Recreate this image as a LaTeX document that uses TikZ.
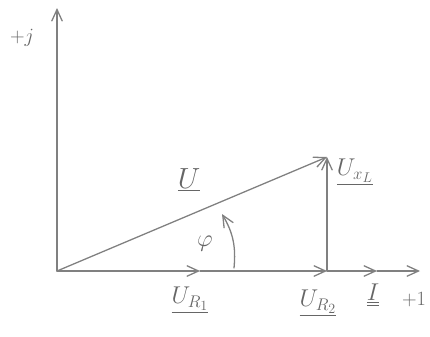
\documentclass[tikz,border=0pt]{standalone}
\usepackage{tikz}
\usetikzlibrary{arrows.meta}

\tikzset{
    pencil/.style={draw=black!50, line width=1.1pt, line cap=round},
    vec/.style={pencil, -{Straight Barb[length=3.5mm,width=3.2mm]}},
    lbl/.style={text=black!60, font=\huge}
}

\begin{document}
\begin{tikzpicture}[x=0.03cm, y=-0.03cm]
    \useasboundingbox (0,0) rectangle (430,336);

    \coordinate (o) at (57,271);
    \coordinate (yend) at (57,8);
    \coordinate (ur1) at (200,271);
    \coordinate (ur2) at (327,271);
    \coordinate (iend) at (377,271);
    \coordinate (xend) at (420,271);
    \coordinate (utip) at (327,157);
    \coordinate (phia) at (234,268);
    \coordinate (phib) at (222,214);

    \draw [vec] (o) -- (yend);

    \draw [vec] (o) -- (ur1);
    \draw [vec] (ur1) -- (ur2);
    \draw [vec] (ur2) -- (iend);
    \draw [vec] (iend) -- (xend);

    \draw [vec] (ur2) -- (utip);
    \draw [vec] (o) -- (utip);

    \draw [vec] (phia) to [bend right=18] (phib);

    \node [lbl, font=\LARGE] (lj) at (22,38) {$+j$};
    \node [lbl, font=\LARGE, anchor=east] (lre) at (430,300) {$+1$};

    \node [lbl, font=\Huge] (lu) at (189,180) {$\underline{U}$};
    \node [lbl] (lphi) at (205,244) {$\varphi$};
    \node [lbl] (lux) at (355,172) {$\underline{U_{x_L}}$};
    \node [lbl] (lur1) at (190,300) {$\underline{U_{R_1}}$};
    \node [lbl] (lur2) at (318,303) {$\underline{U_{R_2}}$};
    \node [lbl] (li) at (373,295) {$\underline{\underline{I}}$};

  \end{tikzpicture}
\end{document}
